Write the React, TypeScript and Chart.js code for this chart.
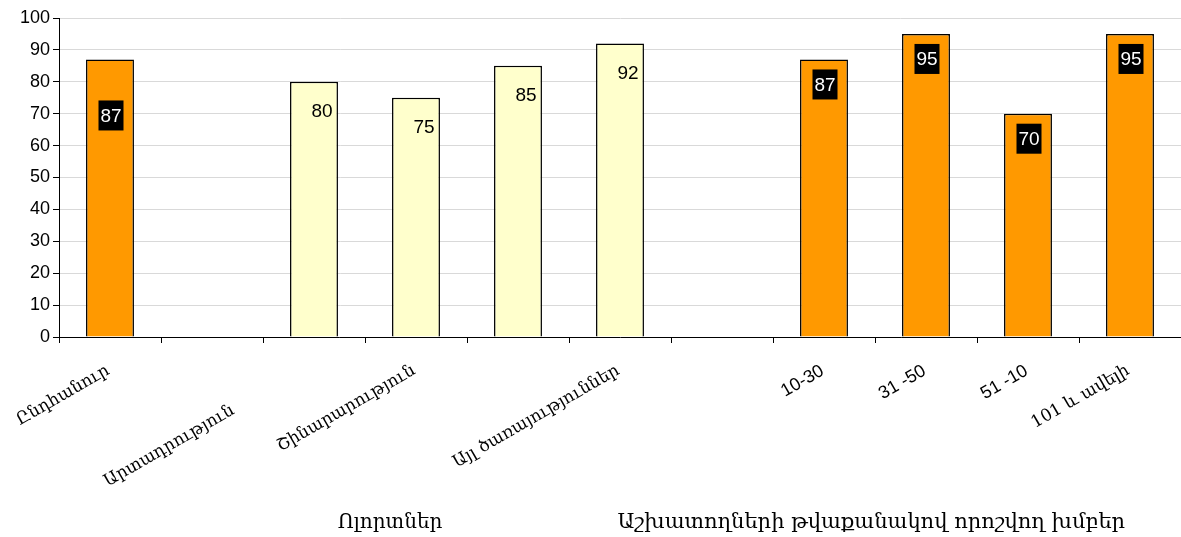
import React, { useEffect, useRef } from "react";
import { Chart, registerables } from "chart.js";
Chart.register(...registerables);

// ---- data ----
const categories = [
  "Ընդհանուր",
  "\n\nԱրտադրություն",
  "",
  "Շինարարություն",
  "",
  "Այլ ծառայություններ",
  "",
  "10-30",
  "31 -50",
  "51 -10",
  "101 և ավելի",
];
const values: (number | null)[] = [87, null, 80, 75, 85, 92, null, 87, 95, 70, 95];
const groupOf = ["all", "sector", "sector", "sector", "sector", "sector", "size", "size", "size", "size", "size"];
const groupTitles = ["Ոլորտներ", "Աշխատողների թվաքանակով որոշվող խմբեր"];
const yTicks = [0, 10, 20, 30, 40, 50, 60, 70, 80, 90, 100];

const ORANGE = "#FF9900";
const YELLOW = "#FFFFCC";

const overlay = {
  id: "overlay",
  afterDraw(chart: any) {
    const ctx = chart.ctx;
    const area = chart.chartArea;
    const meta = chart.getDatasetMeta(0);
    ctx.save();
    // value labels
    meta.data.forEach((bar: any, i: number) => {
      const v = values[i];
      if (v == null) return;
      const orange = groupOf[i] !== "sector";
      ctx.font = "19px 'Liberation Sans', Arial, sans-serif";
      ctx.textAlign = "center";
      ctx.textBaseline = "middle";
      if (orange) {
        const dy = i === 0 ? 56 : 25;
        const cx = bar.x + 1;
        const cy = bar.y + dy;
        ctx.fillStyle = "#000";
        ctx.fillRect(cx - 12.5, cy - 15, 25, 30);
        ctx.fillStyle = "#fff";
        ctx.fillText(String(v), cx, cy + 1);
      } else {
        ctx.fillStyle = "#000";
        ctx.fillText(String(v), bar.x + 8, bar.y + 30);
      }
    });
    // category labels
    const xs = chart.scales.x;
    categories.forEach((lab, i) => {
      if (!lab.trim()) return;
      const x = xs.getPixelForValue(i) - 6;
      const y = area.bottom + 25;
      const ascii = /^[\x00-\x7F\n]*$/.test(lab);
      ctx.font = ascii ? "18px 'Liberation Sans', Arial, sans-serif" : "17px 'DejaVu Serif', serif";
      ctx.fillStyle = "#000";
      ctx.textAlign = "right";
      ctx.textBaseline = "top";
      const lines = lab.split("\n");
      ctx.save();
      ctx.translate(x, y);
      ctx.rotate(-Math.PI / 6);
      lines.forEach((ln, k) => ctx.fillText(ln, 0, k * 23));
      ctx.restore();
    });
    // group titles
    ctx.textAlign = "center";
    ctx.textBaseline = "alphabetic";
    ctx.fillStyle = "#000";
    const w = area.right - area.left;
    ctx.font = "20px 'DejaVu Serif', serif";
    ctx.fillText(groupTitles[0], area.left + w * 0.295, 528);
    ctx.font = "21px 'DejaVu Serif', serif";
    ctx.fillText(groupTitles[1], area.left + w * 0.724, 528);
    ctx.restore();
  },
};

export default function App() {
  const ref = useRef<HTMLCanvasElement>(null);
  useEffect(() => {
    document.body.style.margin = "0";
    const chart = new Chart(ref.current!, {
      type: "bar",
      data: {
        labels: categories,
        datasets: [
          {
            data: values,
            backgroundColor: groupOf.map((g) => (g === "sector" ? YELLOW : ORANGE)),
            borderColor: "#000",
            borderWidth: 1.5,
            barPercentage: 0.47,
            categoryPercentage: 1,
          },
        ],
      },
      options: {
        animation: false,
        responsive: false,
        layout: { padding: { top: 18, right: 0, left: 0, bottom: 0 } },
        plugins: { legend: { display: false }, tooltip: { enabled: false } },
        scales: {
          x: {
            ticks: { display: false },
            grid: {
              display: true,
              drawOnChartArea: false,
              drawTicks: true,
              tickLength: 6,
              color: "#000",
              offset: true,
            },
            border: { color: "#000", width: 1 },
            afterFit: (s: any) => {
              s.height = 200;
            },
          },
          y: {
            min: 0,
            max: 100,
            afterBuildTicks: (s: any) => {
              s.ticks = yTicks.map((v) => ({ value: v }));
            },
            ticks: {
              color: "#000",
              font: { family: "'Liberation Sans', Arial, sans-serif", size: 18 },
              padding: 3,
            },
            grid: { color: "#d9d9d9", lineWidth: 1, tickLength: 6, tickColor: "#000" },
            border: { color: "#000", width: 1 },
            afterFit: (s: any) => {
              s.width = 59;
            },
          },
        },
      },
      plugins: [overlay],
    });
    return () => chart.destroy();
  }, []);
  return <canvas ref={ref} width={1181} height={537} style={{ display: "block" }} />;
}
